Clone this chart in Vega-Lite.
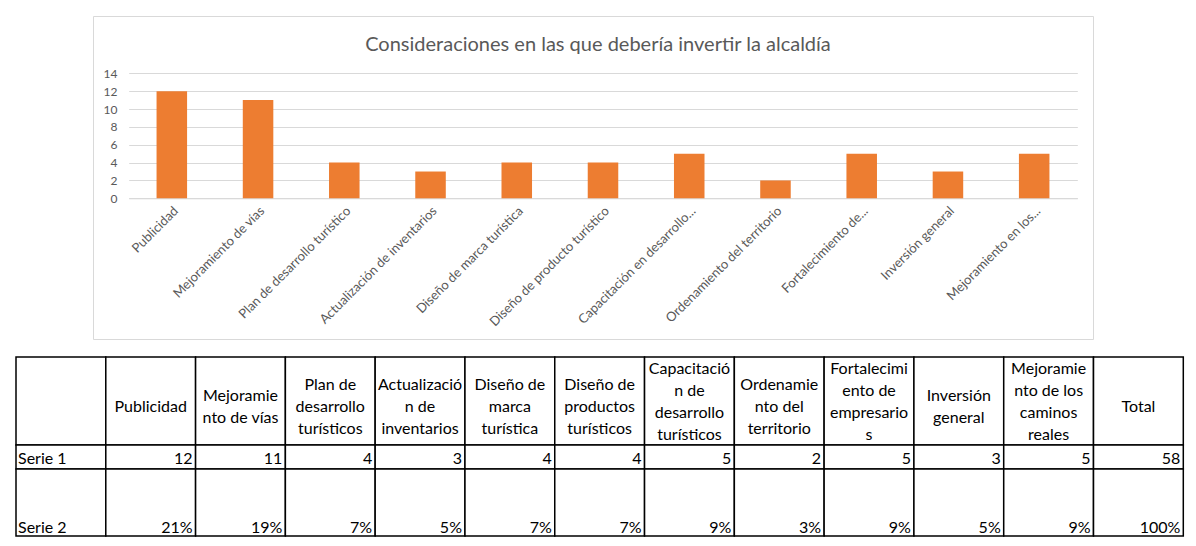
{
  "$schema": "https://vega.github.io/schema/vega-lite/v6.json",
  "padding": {"left": 15, "top": 15, "right": 5, "bottom": 5},
  "background": "white",
  "config": {"view": {"stroke": null}, "font": "Lato"},
  "spacing": 18,
  "bounds": "flush",
  "vconcat": [
    {
      "width": 1000,
      "height": 323,
      "view": {"stroke": "#d9d9d9", "strokeWidth": 1},
      "title": {
        "text": "Consideraciones en las que debería invertir la alcaldía",
        "orient": "top",
        "anchor": "middle",
        "frame": "group",
        "offset": -55,
        "baseline": "alphabetic",
        "font": "Lato",
        "fontSize": 20,
        "fontWeight": "normal",
        "color": "#595959",
        "dx": 5
      },
      "data": {
        "values": [
          {"categoria": "Publicidad", "valor": 12},
          {"categoria": "Mejoramiento de vías", "valor": 11},
          {"categoria": "Plan de desarrollo turístico", "valor": 4},
          {"categoria": "Actualización de inventarios", "valor": 3},
          {"categoria": "Diseño de marca turística", "valor": 4},
          {"categoria": "Diseño de producto turístico", "valor": 4},
          {"categoria": "Capacitación en desarrollo...", "valor": 5},
          {"categoria": "Ordenamiento del territorio", "valor": 2},
          {"categoria": "Fortalecimiento de...", "valor": 5},
          {"categoria": "Inversión general", "valor": 3},
          {"categoria": "Mejoramiento en los...", "valor": 5}
        ]
      },
      "mark": {"type": "bar", "color": "#ED7D31"},
      "encoding": {
        "x": {
          "field": "categoria",
          "type": "nominal",
          "sort": null,
          "scale": {"range": [35.7, 984.3], "paddingInner": 0.646, "paddingOuter": 0.323},
          "axis": {
            "title": null,
            "orient": "bottom",
            "offset": -140.7,
            "labelAngle": -45,
            "labelFont": "Lato",
            "labelFontSize": 13,
            "labelColor": "#595959",
            "labelPadding": 6,
            "labelOverlap": false,
            "labelLimit": 300,
            "ticks": false,
            "domainColor": "#d9d9d9",
            "grid": false
          }
        },
        "y": {
          "field": "valor",
          "type": "quantitative",
          "scale": {"domain": [0, 14], "range": [182.3, 57.3], "nice": false},
          "axis": {
            "title": null,
            "values": [0, 2, 4, 6, 8, 10, 12, 14],
            "offset": -28,
            "labelPadding": 4,
            "domain": false,
            "ticks": false,
            "labelFont": "Lato",
            "labelFontSize": 12,
            "labelColor": "#595959",
            "grid": true,
            "gridColor": "#d9d9d9"
          }
        }
      }
    },
    {
      "width": 1000,
      "height": 179,
      "data": {
        "values": [
          {"fila": "Encabezado", "col": "Serie", "texto": ""},
          {"fila": "Encabezado", "col": "Publicidad", "texto": "Publicidad"},
          {"fila": "Encabezado", "col": "Mejoramiento de vías", "texto": "Mejoramie\nnto de vías"},
          {"fila": "Encabezado", "col": "Plan de desarrollo", "texto": "Plan de\ndesarrollo\nturísticos"},
          {"fila": "Encabezado", "col": "Actualización", "texto": "Actualizació\nn de\ninventarios"},
          {"fila": "Encabezado", "col": "Diseño de marca", "texto": "Diseño de\nmarca\nturística"},
          {"fila": "Encabezado", "col": "Diseño de productos", "texto": "Diseño de\nproductos\nturísticos"},
          {"fila": "Encabezado", "col": "Capacitación", "texto": "Capacitació\nn de\ndesarrollo\nturísticos"},
          {"fila": "Encabezado", "col": "Ordenamiento", "texto": "Ordenamie\nnto del\nterritorio"},
          {"fila": "Encabezado", "col": "Fortalecimiento", "texto": "Fortalecimi\nento de\nempresario\ns"},
          {"fila": "Encabezado", "col": "Inversión", "texto": "Inversión\ngeneral"},
          {"fila": "Encabezado", "col": "Mejoramiento de caminos", "texto": "Mejoramie\nnto de los\ncaminos\nreales"},
          {"fila": "Encabezado", "col": "Total", "texto": "Total"},
          {"fila": "Serie 1", "col": "Serie", "texto": "Serie 1"},
          {"fila": "Serie 1", "col": "Publicidad", "texto": "12"},
          {"fila": "Serie 1", "col": "Mejoramiento de vías", "texto": "11"},
          {"fila": "Serie 1", "col": "Plan de desarrollo", "texto": "4"},
          {"fila": "Serie 1", "col": "Actualización", "texto": "3"},
          {"fila": "Serie 1", "col": "Diseño de marca", "texto": "4"},
          {"fila": "Serie 1", "col": "Diseño de productos", "texto": "4"},
          {"fila": "Serie 1", "col": "Capacitación", "texto": "5"},
          {"fila": "Serie 1", "col": "Ordenamiento", "texto": "2"},
          {"fila": "Serie 1", "col": "Fortalecimiento", "texto": "5"},
          {"fila": "Serie 1", "col": "Inversión", "texto": "3"},
          {"fila": "Serie 1", "col": "Mejoramiento de caminos", "texto": "5"},
          {"fila": "Serie 1", "col": "Total", "texto": "58"},
          {"fila": "Serie 2", "col": "Serie", "texto": "Serie 2"},
          {"fila": "Serie 2", "col": "Publicidad", "texto": "21%"},
          {"fila": "Serie 2", "col": "Mejoramiento de vías", "texto": "19%"},
          {"fila": "Serie 2", "col": "Plan de desarrollo", "texto": "7%"},
          {"fila": "Serie 2", "col": "Actualización", "texto": "5%"},
          {"fila": "Serie 2", "col": "Diseño de marca", "texto": "7%"},
          {"fila": "Serie 2", "col": "Diseño de productos", "texto": "7%"},
          {"fila": "Serie 2", "col": "Capacitación", "texto": "9%"},
          {"fila": "Serie 2", "col": "Ordenamiento", "texto": "3%"},
          {"fila": "Serie 2", "col": "Fortalecimiento", "texto": "9%"},
          {"fila": "Serie 2", "col": "Inversión", "texto": "5%"},
          {"fila": "Serie 2", "col": "Mejoramiento de caminos", "texto": "9%"},
          {"fila": "Serie 2", "col": "Total", "texto": "100%"}
        ]
      },
      "resolve": {"scale": {"y": "independent"}},
      "encoding": {
        "x": {
          "field": "col",
          "type": "nominal",
          "scale": {
            "type": "band",
            "domain": ["Serie", "Publicidad", "Mejoramiento de vías", "Plan de desarrollo", "Actualización", "Diseño de marca", "Diseño de productos", "Capacitación", "Ordenamiento", "Fortalecimiento", "Inversión", "Mejoramiento de caminos", "Total"],
            "range": [-77, 1090.3],
            "paddingInner": 0,
            "paddingOuter": 0
          },
          "axis": null
        }
      },
      "layer": [
        {
          "transform": [{"filter": "datum.fila === 'Encabezado'"}],
          "encoding": {
            "y": {"field": "fila", "type": "nominal", "scale": {"type": "band", "range": [0, 88], "paddingInner": 0, "paddingOuter": 0}, "axis": null}
          },
          "layer": [
            {"mark": {"type": "rect", "fill": "white", "stroke": "black", "strokeWidth": 1.5}},
            {
              "transform": [{"filter": "split(datum.texto, '\\n').length === 1"}],
              "mark": {"type": "text", "align": "center", "baseline": "middle", "lineBreak": "\n", "font": "Lato", "fontSize": 16, "lineHeight": 22, "dy": 6, "color": "black"},
              "encoding": {"text": {"field": "texto"}}
            },
            {
              "transform": [{"filter": "split(datum.texto, '\\n').length === 2"}],
              "mark": {"type": "text", "align": "center", "baseline": "middle", "lineBreak": "\n", "font": "Lato", "fontSize": 16, "lineHeight": 22, "dy": -5, "color": "black"},
              "encoding": {"text": {"field": "texto"}}
            },
            {
              "transform": [{"filter": "split(datum.texto, '\\n').length === 3"}],
              "mark": {"type": "text", "align": "center", "baseline": "middle", "lineBreak": "\n", "font": "Lato", "fontSize": 16, "lineHeight": 22, "dy": -16, "color": "black"},
              "encoding": {"text": {"field": "texto"}}
            },
            {
              "transform": [{"filter": "split(datum.texto, '\\n').length === 4"}],
              "mark": {"type": "text", "align": "center", "baseline": "middle", "lineBreak": "\n", "font": "Lato", "fontSize": 16, "lineHeight": 22, "dy": -32, "color": "black"},
              "encoding": {"text": {"field": "texto"}}
            }
          ]
        },
        {
          "transform": [{"filter": "datum.fila === 'Serie 1'"}],
          "encoding": {
            "y": {"field": "fila", "type": "nominal", "scale": {"type": "band", "range": [88, 112], "paddingInner": 0, "paddingOuter": 0}, "axis": null}
          },
          "layer": [
            {"mark": {"type": "rect", "fill": "white", "stroke": "black", "strokeWidth": 1.5}},
            {
              "transform": [{"filter": "datum.col !== 'Serie'"}],
              "mark": {"type": "text", "align": "right", "baseline": "middle", "font": "Lato", "fontSize": 16, "dx": -3, "dy": 1.5, "color": "black"},
              "encoding": {"x": {"field": "col", "type": "nominal", "bandPosition": 1}, "text": {"field": "texto"}}
            },
            {
              "transform": [{"filter": "datum.col === 'Serie'"}],
              "mark": {"type": "text", "align": "left", "baseline": "middle", "font": "Lato", "fontSize": 16, "dx": 2, "dy": 1.5, "color": "black"},
              "encoding": {"x": {"field": "col", "type": "nominal", "bandPosition": 0}, "text": {"field": "texto"}}
            }
          ]
        },
        {
          "transform": [{"filter": "datum.fila === 'Serie 2'"}],
          "encoding": {
            "y": {"field": "fila", "type": "nominal", "scale": {"type": "band", "range": [112, 179], "paddingInner": 0, "paddingOuter": 0}, "axis": null}
          },
          "layer": [
            {"mark": {"type": "rect", "fill": "white", "stroke": "black", "strokeWidth": 1.5}},
            {
              "transform": [{"filter": "datum.col !== 'Serie'"}],
              "mark": {"type": "text", "align": "right", "baseline": "alphabetic", "font": "Lato", "fontSize": 16, "dx": -3, "dy": -3, "color": "black"},
              "encoding": {"x": {"field": "col", "type": "nominal", "bandPosition": 1}, "y": {"field": "fila", "type": "nominal", "bandPosition": 1}, "text": {"field": "texto"}}
            },
            {
              "transform": [{"filter": "datum.col === 'Serie'"}],
              "mark": {"type": "text", "align": "left", "baseline": "alphabetic", "font": "Lato", "fontSize": 16, "dx": 2, "dy": -3, "color": "black"},
              "encoding": {"x": {"field": "col", "type": "nominal", "bandPosition": 0}, "y": {"field": "fila", "type": "nominal", "bandPosition": 1}, "text": {"field": "texto"}}
            }
          ]
        }
      ]
    }
  ]
}
